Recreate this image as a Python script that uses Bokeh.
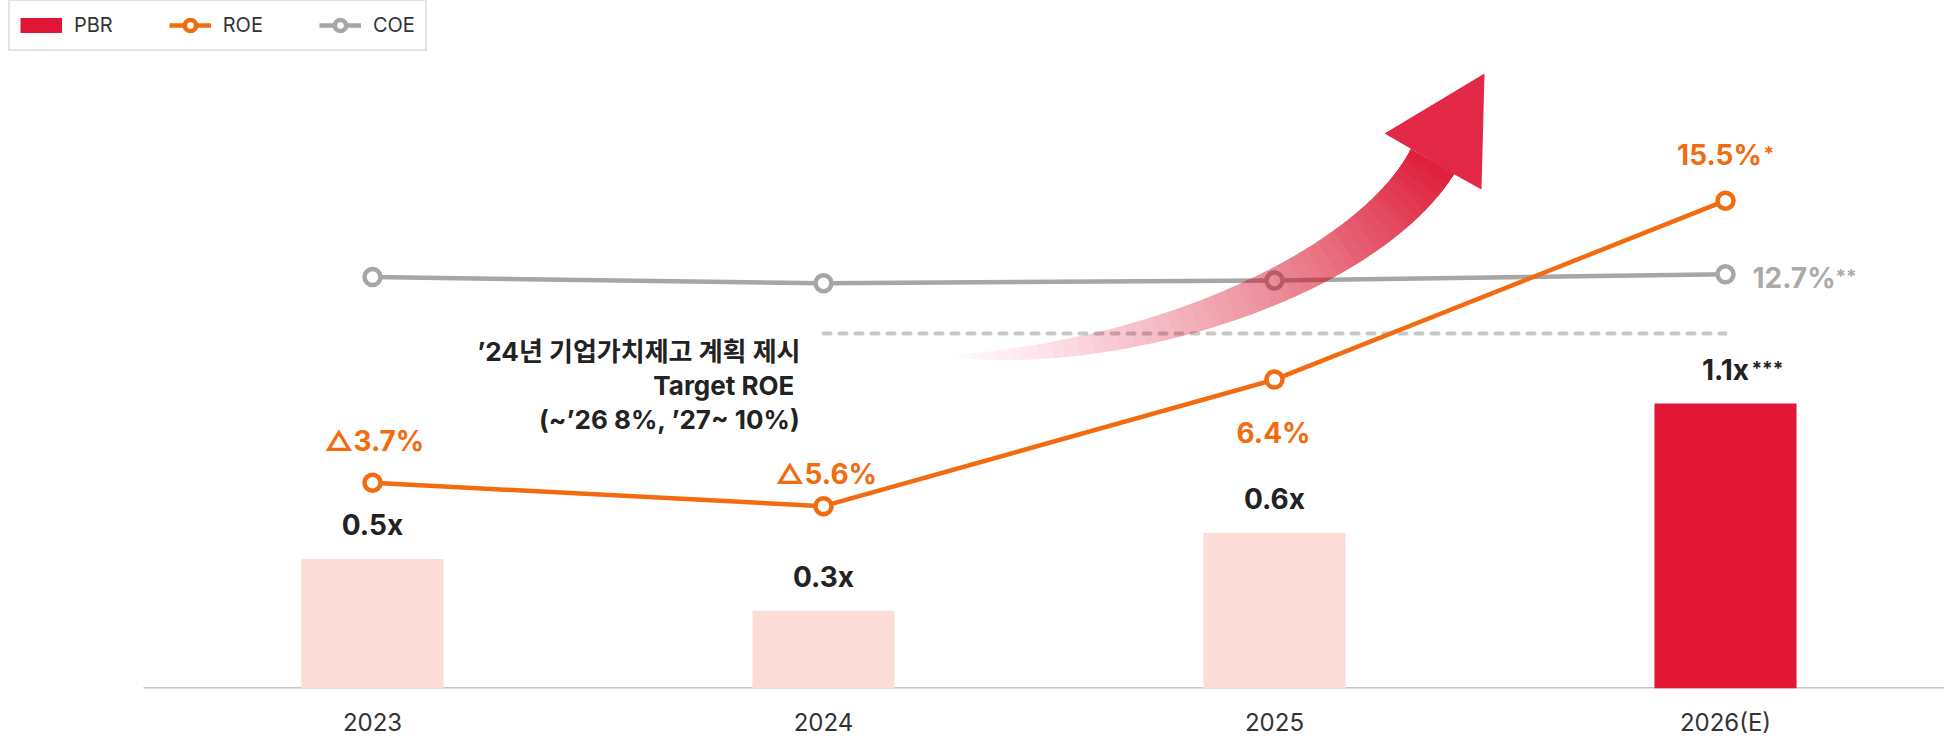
import math
from bokeh.plotting import figure
from bokeh.models import (ColumnDataSource, Range1d, FixedTicker, Legend, LegendItem,
                          CDSView, IndexFilter)
from bokeh.core.properties import value
from bokeh.embed import file_html
from bokeh.resources import INLINE

# ---------------- data ----------------
years = ["2023", "2024", "2025", "2026(E)"]
pbr = [0.5, 0.3, 0.6, 1.1]
pbr_text = ["0.5x", "0.3x", "0.6x", "1.1x"]
pbr_note = ["", "", "", "***"]

roe_text = ["△3.7%", "△5.6%", "6.4%", "15.5%"]
roe_note = ["", "", "", "*"]
# schematic chart: vertical level of each point (0 = baseline, 100 = top of plot area)
roe_level = [29.9, 26.5, 44.9, 70.9]
coe_level = [59.8, 58.9, 59.3, 60.2]
coe_text = ["", "", "", "12.7%"]
coe_note = ["", "", "", "**"]

target_years = ["2024", "2026(E)"]
target_level = [51.6, 51.6]
target_text = ["’24년 기업가치제고 계획 제시", "Target ROE\u00a0", "(~’26 8%, ’27~ 10%)"]

# ---------------- styles ----------------
ORANGE = "#F26B0F"
GRAY = "#A6A6A6"
CRIMSON = "#E11634"
LIGHT = "#FCDCD7"
DARK = "#222222"
LATIN = "Inter"
MIXED = "Inter, Noto Sans CJK KR"

W, H = 1944, 739
FRAME_H = 688.0          # plot frame height in px (top of page -> baseline)
PBR_TOP = FRAME_H / 259.0
x = list(range(len(years)))
is_est = [i for i, y in enumerate(years) if "(E)" in y]
is_act = [i for i, y in enumerate(years) if "(E)" not in y]


def px2x(px):
    return (px - 372.0) / 451.0


def py2l(py):
    return (FRAME_H - py) / (FRAME_H / 100.0)


p = figure(width=W, height=H, output_backend="svg", toolbar_location=None,
           x_range=Range1d(px2x(0), px2x(W)), y_range=Range1d(0, PBR_TOP),
           y_axis_location=None, min_border_left=0, min_border_right=0,
           min_border_top=0, min_border_bottom=0)
p.extra_y_ranges = {"lvl": Range1d(0, 100)}
p.grid.visible = False
p.outline_line_color = None
p.background_fill_color = "white"
p.border_fill_color = "white"

ax = p.xaxis[0]
ax.ticker = FixedTicker(ticks=x, minor_ticks=[])
ax.major_label_overrides = {i: y for i, y in zip(x, years)}
ax.major_tick_line_color = None
ax.minor_tick_line_color = None
ax.major_tick_in = 0
ax.major_tick_out = 0
ax.axis_line_color = None
ax.major_label_text_font = LATIN
ax.major_label_text_font_size = "24px"
ax.major_label_text_color = "#333333"
ax.major_label_standoff = 19

# baseline (axis line) starting a little left of the first category
p.segment(x0=[px2x(143)], y0=[0], x1=[px2x(W)], y1=[0],
          line_color="#C8C8C8", line_width=3)

# ---------------- bars ----------------
src = ColumnDataSource(dict(x=x, pbr=pbr, text=pbr_text, note=pbr_note))
est_view = CDSView(filter=IndexFilter(is_est))
bars_act = p.vbar(x="x", top="pbr", width=0.315, source=src,
                  view=CDSView(filter=IndexFilter(is_act)),
                  fill_color=LIGHT, line_color=None)
bars_est = p.vbar(x="x", top="pbr", width=0.315, source=src, view=est_view,
                  fill_color=CRIMSON, line_color=None)
# legend swatch for PBR: a one-point line (draws nothing in the plot itself)
pbr_swatch = p.line(x="x", y="pbr", source=src, view=CDSView(filter=IndexFilter(is_est)),
                    line_color=CRIMSON, line_width=15, line_cap="butt")

# ---------------- target dashed line ----------------
p.line(x=[years.index(t) for t in target_years], y=target_level, y_range_name="lvl",
       line_color="#C8C8C8", line_width=4, line_dash="7 9", line_cap="round")

# ---------------- COE ----------------
coe_src = ColumnDataSource(dict(x=x, y=coe_level, text=coe_text, note=coe_note))
coe_line = p.line("x", "y", source=coe_src, y_range_name="lvl",
                  line_color=GRAY, line_width=4.5)
coe_pts = p.scatter("x", "y", source=coe_src, y_range_name="lvl", size=16,
                    fill_color="white", line_color=GRAY, line_width=4.5)

# ---------------- decorative gradient arrow ----------------
B0, B1, B2, B3 = (955, 356), (1160, 356), (1372, 265), (1432, 161)


def bez(t):
    a = (1 - t) ** 3
    b = 3 * (1 - t) ** 2 * t
    c = 3 * (1 - t) * t ** 2
    d = t ** 3
    return (a * B0[0] + b * B1[0] + c * B2[0] + d * B3[0],
            a * B0[1] + b * B1[1] + c * B2[1] + d * B3[1])


def bez_d(t):
    a = 3 * (1 - t) ** 2
    b = 6 * (1 - t) * t
    c = 3 * t ** 2
    return (a * (B1[0] - B0[0]) + b * (B2[0] - B1[0]) + c * (B3[0] - B2[0]),
            a * (B1[1] - B0[1]) + b * (B2[1] - B1[1]) + c * (B3[1] - B2[1]))


def edge(t):
    cx, cy = bez(t)
    dx, dy = bez_d(t)
    n = math.hypot(dx, dy)
    nx, ny = -dy / n, dx / n
    h = 25.0 * t ** 0.6
    return (cx + nx * h, cy + ny * h), (cx - nx * h, cy - ny * h)


def target_alpha(t):
    return 0.03 + 0.92 * t ** 1.25


K, M = 45, 120
ts = [j / M for j in range(M + 1)]
edges = [edge(t) for t in ts]
layer_xs, layer_ys, layer_a = [], [], []
prev_T = 1.0
for k in range(K):
    t0 = k / K
    j0 = int(round(t0 * M))
    upper = [edges[j][0] for j in range(j0, M + 1)]
    lower = [edges[j][1] for j in range(M, j0 - 1, -1)]
    pts = upper + lower
    layer_xs.append([px2x(q[0]) for q in pts])
    layer_ys.append([py2l(q[1]) for q in pts])
    T = 1.0 - target_alpha(t0 + 0.5 / K)
    layer_a.append(1.0 - T / prev_T)
    prev_T = T
p.patches(xs=layer_xs, ys=layer_ys, y_range_name="lvl", fill_color=CRIMSON,
          fill_alpha=layer_a, line_color=None)
head = [(1384, 133), (1484, 73), (1481, 189), (1454, 174), (1410, 148)]
p.patch(x=[px2x(q[0]) for q in head], y=[py2l(q[1]) for q in head], y_range_name="lvl",
        fill_color="#E11F3E", fill_alpha=0.96, line_color=None)

# ---------------- ROE ----------------
roe_src = ColumnDataSource(dict(x=x, y=roe_level, text=roe_text, note=roe_note,
                                dx=[2, 3, -1, -6], dy=[-42, -32, 53, -46]))
roe_line = p.line("x", "y", source=roe_src, y_range_name="lvl",
                  line_color=ORANGE, line_width=4.5)
roe_pts = p.scatter("x", "y", source=roe_src, y_range_name="lvl", size=16,
                    fill_color="white", line_color=ORANGE, line_width=4.5)

# ---------------- labels ----------------
p.text(x="x", y="pbr", text="text", source=src, text_align="center",
       text_baseline="middle", y_offset=-34, text_font=value(LATIN),
       text_font_style="bold", text_font_size="28px", text_color=DARK)
p.text(x="x", y="pbr", text="note", source=src, text_align="left",
       text_baseline="middle", x_offset=26, y_offset=-35, text_font=value(LATIN),
       text_font_style="bold", text_font_size="19px", text_color=DARK)

p.text(x="x", y="y", text="text", source=roe_src, y_range_name="lvl",
       text_align="center", text_baseline="middle", x_offset="dx", y_offset="dy",
       text_font=value(MIXED), text_font_style="bold", text_font_size="28px",
       text_color=ORANGE)
p.text(x="x", y="y", text="note", source=roe_src, y_range_name="lvl",
       text_align="left", text_baseline="middle", x_offset=38, y_offset=-47,
       text_font=value(LATIN), text_font_style="bold", text_font_size="19px",
       text_color=ORANGE)

p.text(x="x", y="y", text="text", source=coe_src, y_range_name="lvl",
       text_align="left", text_baseline="middle", x_offset=27, y_offset=4,
       text_font=value(LATIN), text_font_style="bold", text_font_size="28px",
       text_color="#AAAAAA")
p.text(x="x", y="y", text="note", source=coe_src, y_range_name="lvl",
       text_align="left", text_baseline="middle", x_offset=110, y_offset=2,
       text_font=value(LATIN), text_font_style="bold", text_font_size="19px",
       text_color="#AAAAAA")

p.text(x=[px2x(800)] * 3, y=[py2l(351), py2l(385), py2l(419)], y_range_name="lvl",
       text=target_text, text_align="right", text_baseline="middle",
       text_font=value(MIXED), text_font_style="bold", text_font_size="26px",
       text_color=DARK)

# ---------------- legend ----------------
legend = Legend(items=[LegendItem(label="PBR", renderers=[pbr_swatch]),
                       LegendItem(label="ROE", renderers=[roe_line, roe_pts]),
                       LegendItem(label="COE", renderers=[coe_line, coe_pts])],
                orientation="horizontal", location=(8, FRAME_H - 51), padding=10,
                spacing=56, glyph_width=42, glyph_height=28, label_standoff=12,
                label_text_font=LATIN, label_text_font_size="20px",
                label_text_color="#333333", border_line_color="#C8C8C8",
                border_line_width=2, background_fill_color="white",
                background_fill_alpha=1.0, margin=0)
p.add_layout(legend)

open("out.html", "w", encoding="utf-8").write(file_html(p, INLINE))
